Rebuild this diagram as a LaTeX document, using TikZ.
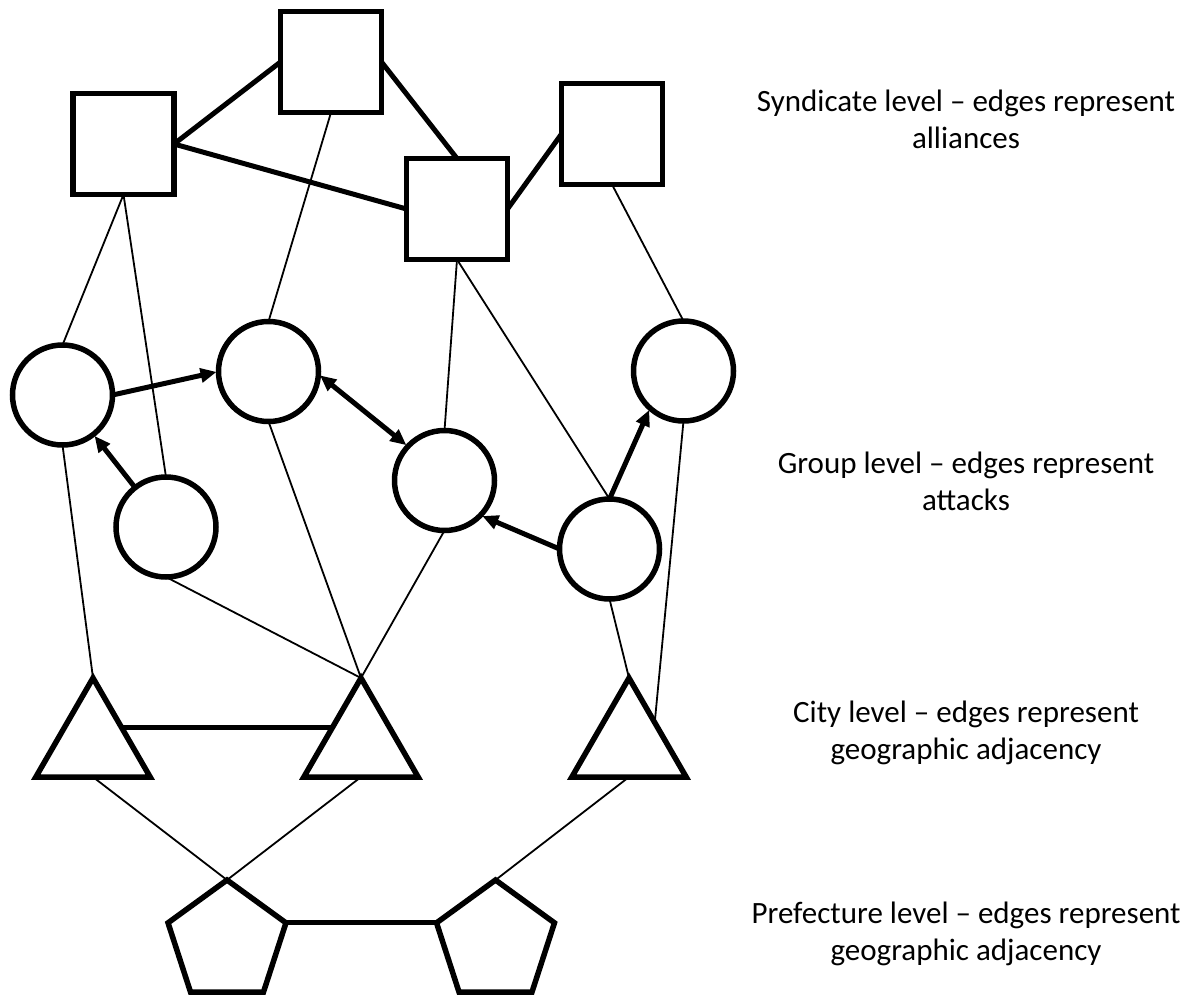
\documentclass[tikz,border=0pt]{standalone}
\usepackage{fontspec}
\setmainfont{Carlito}
\usetikzlibrary{shapes.geometric,arrows.meta,calc}
\begin{document}
\begin{tikzpicture}[x=1pt,y=-1pt,
  shapeline/.style={draw=black,line width=5.5pt,fill=white,inner sep=0pt,outer sep=0pt},
  sq/.style={shapeline,rectangle,minimum size=101pt},
  circ/.style={shapeline,circle,minimum size=100pt},
  tri/.style={shapeline,regular polygon,regular polygon sides=3,minimum size=132pt},
  pent/.style={shapeline,regular polygon,regular polygon sides=5,minimum size=124pt},
  strong/.style={line width=5pt},
  link/.style={line width=1.8pt},
  attack/.style={line width=5pt,-{Triangle[length=16pt,width=14pt]},shorten >=2pt},
  mutual/.style={line width=5pt,{Triangle[length=16pt,width=14pt]}-{Triangle[length=16pt,width=14pt]},shorten >=2pt,shorten <=2pt},
  lbl/.style={font=\fontsize{31}{37}\selectfont,align=center}
]
\useasboundingbox (0,0) rectangle (1190,998);
\fill[white] (0,0) rectangle (1190,998);

% syndicates
\node[sq] (S1) at (123.5,144) {};
\node[sq] (S2) at (331,62) {};
\node[sq] (S3) at (457,209) {};
\node[sq] (S4) at (612,134) {};

% groups
\node[circ] (C1) at (62.5,395) {};
\node[circ] (C2) at (268.5,371.5) {};
\node[circ] (C3) at (444.5,480.5) {};
\node[circ] (C4) at (683.5,371) {};
\node[circ] (C5) at (166,527) {};
\node[circ] (C6) at (609.5,549) {};

% cities
\node[tri] (T1) at (93,744) {};
\node[tri] (T2) at (361,744) {};
\node[tri] (T3) at (629,744) {};

% prefectures
\node[pent] (P1) at (227,942) {};
\node[pent] (P2) at (495.5,942) {};

% points on triangle sides
\coordinate (t1r) at ($(T1.corner 1)!0.5!(T1.corner 3)$);
\coordinate (t2l) at ($(T2.corner 1)!0.5!(T2.corner 2)$);
\coordinate (t3r) at ($(T3.corner 1)!0.45!(T3.corner 3)$);

% alliances
\draw[strong] (S1.east) -- (S2.west);
\draw[strong] (S1.east) -- (S3.west);
\draw[strong] (S2.east) -- (S3.north);
\draw[strong] (S3.east) -- (S4.west);

% membership links
\draw[link] (S1.south) -- (C1.north);
\draw[link] (S1.south) -- (C5.north);
\draw[link] (S2.south) -- (C2.north);
\draw[link] (S3.south) -- (C3.north);
\draw[link] (S3.south) -- (C6.north);
\draw[link] (S4.south) -- (C4.north);

\draw[link] (C1.south) -- (T1.corner 1);
\draw[link] (C5.south) -- (T2.corner 1);
\draw[link] (C2.south) -- (T2.corner 1);
\draw[link] (C3.south) -- (T2.corner 1);
\draw[link] (C6.south) -- (T3.corner 1);
\draw[link] (C4.south) -- (t3r);

\draw[link] (T1.south) -- (P1.corner 1);
\draw[link] (T2.south) -- (P1.corner 1);
\draw[link] (T3.south) -- (P2.corner 1);

% attacks
\draw[attack] (C1.east) -- (C2.west);
\draw[attack] (C5) -- (C1);
\draw[mutual] (C2.-3) -- (C3.137);
\draw[attack] (C6.west) -- (C3.-44);
\draw[attack] (C6.north) -- (C4.-132);

% adjacency
\draw[strong] (t1r) -- (t2l);
\draw[strong] (P1.corner 5) -- (P2.corner 2);

% level captions
\node[lbl] (Lsyn) at (966,119.5) {Syndicate level -- edges represent\\alliances};
\node[lbl] (Lgrp) at (966,481) {Group level -- edges represent\\attacks};
\node[lbl] (Lcity) at (966,732.5) {City level -- edges represent\\geographic adjacency};
\node[lbl] (Lpref) at (966,933.5) {Prefecture level -- edges represent\\geographic adjacency};
\end{tikzpicture}
\end{document}
